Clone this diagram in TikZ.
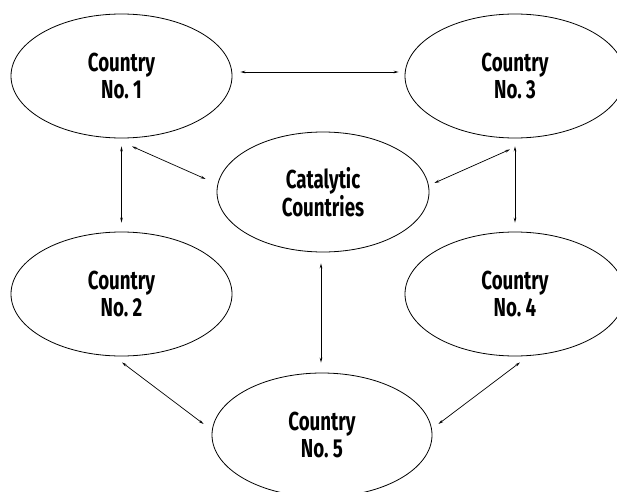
\documentclass[tikz,border=0pt]{standalone}
\usepackage{fontspec}
\setmainfont{Fira Sans}[FakeStretch=0.72]
\usetikzlibrary{shapes.geometric,arrows.meta}
\begin{document}
\begin{tikzpicture}[x=1pt,y=1pt,
  country/.style={draw,ellipse,line width=0.8pt,inner sep=0pt,align=center,
    font=\fontsize{26}{26.5}\selectfont\bfseries},
  link/.style={line width=0.7pt,{Stealth[length=5pt,width=2.6pt]}-{Stealth[length=5pt,width=2.6pt]}}]
\useasboundingbox (0,0) rectangle (617,491);
\clip (0,0) rectangle (617,491);
\node[country,minimum width=221pt,minimum height=124pt] (c1) at (121.5,415) {Country\\No.\,1};
\node[country,minimum width=220pt,minimum height=124pt] (c3) at (515,415) {Country\\No.\,3};
\node[country,minimum width=212pt,minimum height=120pt] (cat) at (323,299) {Catalytic\\Countries};
\node[country,minimum width=221pt,minimum height=124pt] (c2) at (121.5,197) {Country\\No.\,2};
\node[country,minimum width=220pt,minimum height=124pt] (c4) at (515,197) {Country\\No.\,4};
\node[country,minimum width=220pt,minimum height=124pt] (c5) at (322,56) {Country\\No.\,5};
\draw[link,shorten <=8pt,shorten >=6pt] ([yshift=4pt]c1.east) -- ([yshift=4pt]c3.west);
\draw[link,shorten <=8pt,shorten >=9pt] (c1.south) -- (c2.north);
\draw[link] ([xshift=10.5pt,yshift=-8pt]c1.south) -- ([xshift=-11pt,yshift=13pt]cat.west);
\draw[link] ([xshift=-5pt,yshift=-11pt]c3.south) -- ([xshift=5pt,yshift=9pt]cat.east);
\draw[link,shorten <=8pt,shorten >=9pt] (c3.south) -- (c4.north);
\draw[link,shorten <=11pt,shorten >=10pt] ([xshift=-2pt]cat.south) -- ([xshift=-1pt]c5.north);
\draw[link] ([xshift=0.5pt,yshift=-6pt]c2.south) -- ([xshift=-8pt,yshift=11pt]c5.west);
\draw[link] ([xshift=5pt,yshift=-6pt]c4.south) -- ([xshift=6pt,yshift=11pt]c5.east);
\end{tikzpicture}
\end{document}
